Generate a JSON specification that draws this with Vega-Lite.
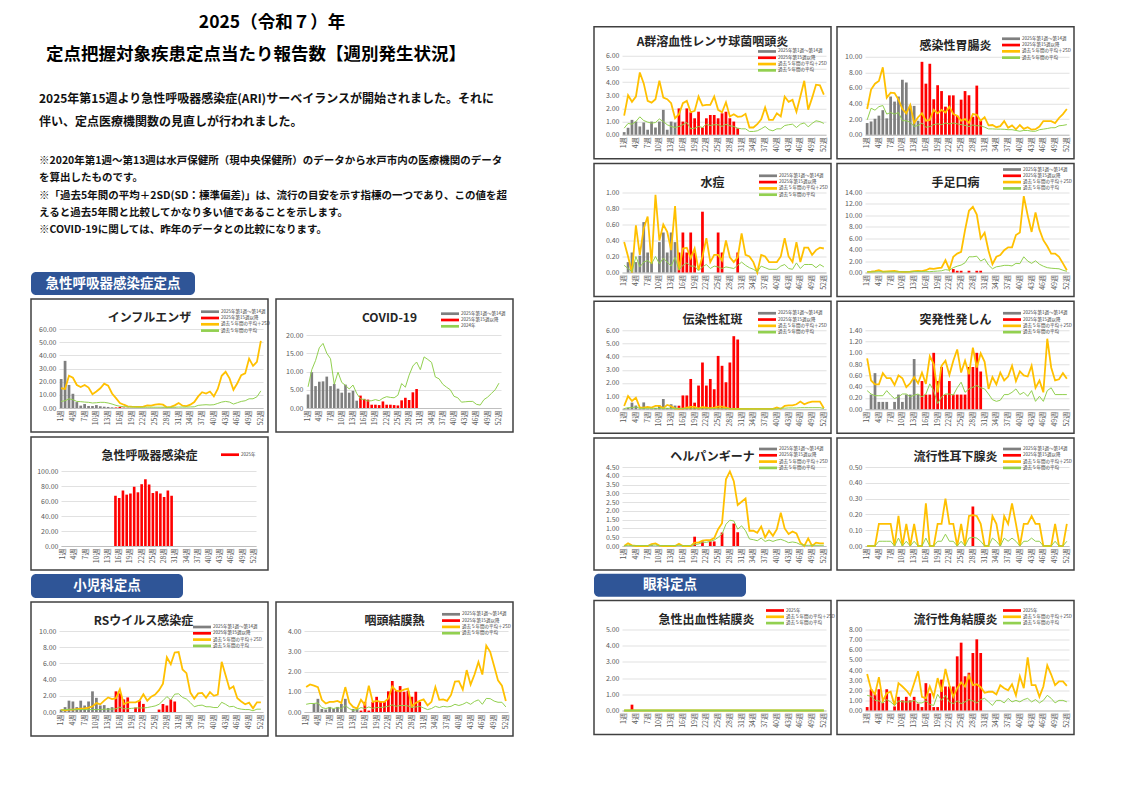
{
"background":"white",
"padding":{"left":30,"top":10,"right":5,"bottom":5},
"config":{
 "font":"Noto Sans CJK JP",
 "view":{"stroke":"#404040","strokeWidth":1.5},
 "title":{"fontSize":12,"fontWeight":"bold","color":"#262626","anchor":"middle","frame":"group","offset":-26},
 "axis":{"labelFontSize":7,"labelColor":"#595959","ticks":false},
 "axisX":{"labelAngle":-90,"grid":false,"domainColor":"#bfbfbf","labelPadding":2,"labelOverlap":false},
 "axisY":{"grid":true,"gridColor":"#d9d9d9","gridWidth":0.8,"domain":false,"labelPadding":3},
 "legend":{"orient":"none","labelFontSize":4.5,"labelColor":"#404040","symbolSize":36,"symbolType":"M-3,-0.45H3V0.45H-3Z","symbolStrokeWidth":0,"labelOffset":8,"rowPadding":1.3,"padding":0,"labelLimit":200}
},
"hconcat":[
{"vconcat":[
 {"width":482,"height":26,"view":{"stroke":null},"data":{"values":[{"t":"2025（令和７）年"}]},"mark":{"type":"text","fontSize":17.5,"fontWeight":"bold","color":"#000000"},"encoding":{"text":{"field":"t"}}},
 {"width":450,"height":32,"view":{"stroke":null},"data":{"values":[{"t":"定点把握対象疾患定点当たり報告数【週別発生状況】"}]},"mark":{"type":"text","fontSize":17.5,"fontWeight":"bold","color":"#000000"},"encoding":{"text":{"field":"t"}}},
 {"width":10,"height":8,"view":{"stroke":null},"data":{"values":[{"t":""}]},"mark":"text","encoding":{"text":{"field":"t"}}},
 {"width":482,"height":61,"view":{"stroke":null},"data":{"values":[{"t":"2025年第15週より急性呼吸器感染症(ARI)サーベイランスが開始されました。それに\n伴い、定点医療機関数の見直しが行われました。"}]},"mark":{"type":"text","align":"left","baseline":"line-top","lineHeight":23,"lineBreak":"\n","fontSize":12,"fontWeight":"bold","dx":8,"color":"#111111"},"encoding":{"text":{"field":"t"},"x":{"datum":0,"type":"quantitative","scale":{"domain":[0,1]},"axis":null},"y":{"datum":1,"type":"quantitative","scale":{"domain":[0,1]},"axis":null}}},
 {"width":482,"height":117,"view":{"stroke":null},"data":{"values":[{"t":"※2020年第1週～第13週は水戸保健所（現中央保健所）のデータから水戸市内の医療機関のデータ\nを算出したものです。\n※「過去5年間の平均＋2SD(SD：標準偏差)」は、流行の目安を示す指標の一つであり、この値を超\nえると過去5年間と比較してかなり多い値であることを示します。\n※COVID-19に関しては、昨年のデータとの比較になります。"}]},"mark":{"type":"text","align":"left","baseline":"line-top","lineHeight":17.3,"lineBreak":"\n","fontSize":10.5,"fontWeight":"bold","dx":8,"color":"#111111"},"encoding":{"text":{"field":"t"},"x":{"datum":0,"type":"quantitative","scale":{"domain":[0,1]},"axis":null},"y":{"datum":1,"type":"quantitative","scale":{"domain":[0,1]},"axis":null}}},
 {"width":164,"height":23,"view":{"fill":"#2f5597","stroke":null,"cornerRadius":5},"data":{"values":[{"t":"急性呼吸器感染症定点"}]},"mark":{"type":"text","color":"#ffffff","fontSize":13.5,"fontWeight":"bold"},"encoding":{"text":{"field":"t"}}},
 {"hconcat":[
  {"width":237,"height":133,"title":{"text":"インフルエンザ"},
   "data":{"values":[{"w":[1,2,3,4,5,6,7,8,9,10,11,12,13,14,15,16,17,18,19,20,21,22,23,24,25,26,27,28,29,30,31,32,33,34,35,36,37,38,39,40,41,42,43,44,45,46,47,48,49,50,51,52],
    "b":[22,35.8,17.5,10.8,4.5,1.8,3,1.5,1.5,2.2,1.3,1,0.8,0.5,0.4,0.8,0.3,0.2,0.1,0.1,0.1,0.1,0.1,0.1,0.1,0.1,0.1,0.1,0.2,0.2],
    "u":[15,14.5,24.5,23,17.5,16,17.5,15.5,10.5,12.5,15,18.5,17,11,7.5,3.8,2.5,1.3,1,0.8,0.8,1,2,1.8,2.5,3,2.5,0.5,0.8,2,3.8,1.8,1.5,2.5,4.5,8.8,12,11,12.5,8.8,14.5,24.5,27.5,22.5,13.8,18.8,25,26.3,37.5,32,35,51],
    "m":[5,5.5,7,6.3,5,4.8,4.5,4.3,3.8,4,4.3,4.3,3.8,3,2,1.3,1,0.8,0.7,0.7,0.6,0.6,0.6,0.6,0.6,0.6,0.6,0.5,0.5,0.6,0.7,0.7,0.7,0.8,0.9,2,2.3,2.5,2.3,2.5,3.5,4.5,5,4.5,3,4,5,5.5,7,7,8.5,13]}]},
   "transform":[{"flatten":["w","b","u","m"]}],
   "encoding":{"x":{"field":"w","type":"ordinal","title":null,"scale":{"range":[28,232],"paddingInner":0.3,"paddingOuter":0.2},"axis":{"values":[1,4,7,10,13,16,19,22,25,28,31,34,37,40,43,46,49,52],"labelExpr":"datum.value+'週'","offset":-24}}},
   "layer":[
    {"transform":[{"filter":"datum.w<15"}],"mark":"bar","encoding":{"y":{"field":"b","type":"quantitative","title":null,"scale":{"domain":[0,60],"range":[109,30]},"axis":{"tickCount":6,"format":".2f","offset":-28}},"color":{"datum":"2025年第1週～第14週","scale":{"domain":["2025年第1週～第14週","2025年第15週以降","過去５年間の平均＋2SD","過去５年間の平均"],"range":["#7f7f7f","#ff0000","#ffc000","#92d050"]},"legend":{"title":null,"legendX":176,"legendY":9.7}}}},
    {"transform":[{"filter":"datum.w>=15"}],"mark":"bar","encoding":{"y":{"field":"b","type":"quantitative","title":null},"color":{"datum":"2025年第15週以降"}}},
    {"mark":{"type":"line","strokeWidth":1.8},"encoding":{"y":{"field":"u","type":"quantitative","title":null},"color":{"datum":"過去５年間の平均＋2SD"}}},
    {"mark":{"type":"line","strokeWidth":1},"encoding":{"y":{"field":"m","type":"quantitative","title":null},"color":{"datum":"過去５年間の平均"}}}
   ]},
  {"width":237,"height":133,"title":{"text":"COVID-19","dx":-5},
   "data":{"values":[{"w":[1,2,3,4,5,6,7,8,9,10,11,12,13,14,15,16,17,18,19,20,21,22,23,24,25,26,27,28,29,30,31,32,33,34,35,36,37,38,39,40,41,42,43,44,45,46,47,48,49,50,51,52],
    "b":[3.7,9.8,6,7.2,7.3,8.6,6,6.6,5.3,4.2,6.4,4.2,4.7,2,3.4,2.5,2.3,0.9,0.9,0.8,1.8,0.9,0.9,0.8,0.7,2.1,2.8,2.2,4.3,5.2],
    "m":[5.8,10.5,13,16.5,17.7,15,13.5,6.5,9.8,7,6.2,5.2,6.3,4,2.5,2.3,1.9,2,2.3,2,2.7,3.1,2.9,2.8,3.5,6.7,5.7,9,11.5,12.6,10.5,14,13.3,12.5,8.5,8,6.5,5.7,5,3.2,2.8,1.6,1.7,1.8,1.8,1,0.8,2.3,3,4,5,6.8]}]},
   "transform":[{"flatten":["w","b","m"]}],
   "encoding":{"x":{"field":"w","type":"ordinal","title":null,"scale":{"range":[30,225],"paddingInner":0.3,"paddingOuter":0.2},"axis":{"values":[1,4,7,10,13,16,19,22,25,28,31,34,37,40,43,46,49,52],"labelExpr":"datum.value+'週'","offset":-24}}},
   "layer":[
    {"transform":[{"filter":"datum.w<15"}],"mark":"bar","encoding":{"y":{"field":"b","type":"quantitative","title":null,"scale":{"domain":[0,20],"range":[109,36]},"axis":{"tickCount":4,"format":".2f","offset":-30}},"color":{"datum":"2025年第1週～第14週","scale":{"domain":["2025年第1週～第14週","2025年第15週以降","2024年"],"range":["#7f7f7f","#ff0000","#92d050"]},"legend":{"title":null,"legendX":171,"legendY":11.7}}}},
    {"transform":[{"filter":"datum.w>=15"}],"mark":"bar","encoding":{"y":{"field":"b","type":"quantitative","title":null},"color":{"datum":"2025年第15週以降"}}},
    {"mark":{"type":"line","strokeWidth":1},"encoding":{"y":{"field":"m","type":"quantitative","title":null},"color":{"datum":"2024年"}}}
   ]}
 ],"spacing":8,"bounds":"flush","resolve":{"scale":{"color":"independent"}}},
 {"width":237,"height":133,"title":{"text":"急性呼吸器感染症"},
  "data":{"values":[{"w":[1,2,3,4,5,6,7,8,9,10,11,12,13,14,15,16,17,18,19,20,21,22,23,24,25,26,27,28,29,30,31,32,33,34,35,36,37,38,39,40,41,42,43,44,45,46,47,48,49,50,51,52],
   "b":[null,null,null,null,null,null,null,null,null,null,null,null,null,null,67,64,74,68.5,70,79,71.6,82.4,89,82,70.7,73,70,65.3,74,67]}]},
  "transform":[{"flatten":["w","b"]}],
  "encoding":{"x":{"field":"w","type":"ordinal","title":null,"scale":{"domain":[1,2,3,4,5,6,7,8,9,10,11,12,13,14,15,16,17,18,19,20,21,22,23,24,25,26,27,28,29,30,31,32,33,34,35,36,37,38,39,40,41,42,43,44,45,46,47,48,49,50,51,52],"range":[30,225],"paddingInner":0.3,"paddingOuter":0.2},"axis":{"values":[1,4,7,10,13,16,19,22,25,28,31,34,37,40,43,46,49,52],"labelExpr":"datum.value+'週'","offset":-24}}},
  "layer":[
   {"mark":"bar","encoding":{"y":{"field":"b","type":"quantitative","title":null,"scale":{"domain":[0,100],"range":[109,34]},"axis":{"tickCount":5,"format":".2f","offset":-30}},"color":{"datum":"2025年","scale":{"domain":["2025年"],"range":["#ff0000"]},"legend":{"title":null,"legendX":196,"legendY":14.7}}}}
  ]},
 {"width":152,"height":24,"view":{"fill":"#2f5597","stroke":null,"cornerRadius":5},"data":{"values":[{"t":"小児科定点"}]},"mark":{"type":"text","color":"#ffffff","fontSize":13.5,"fontWeight":"bold"},"encoding":{"text":{"field":"t"}}},
 {"hconcat":[
  {"width":237,"height":134,"title":{"text":"RSウイルス感染症","dx":-6},
   "data":{"values":[{"w":[1,2,3,4,5,6,7,8,9,10,11,12,13,14,15,16,17,18,19,20,21,22,23,24,25,26,27,28,29,30,31,32,33,34,35,36,37,38,39,40,41,42,43,44,45,46,47,48,49,50,51,52],
    "b":[0.3,0.6,1.4,1.3,0.6,1.4,0.8,1.3,2.55,1.75,0.8,0.85,0.5,0.6,2.55,2.3,1.55,1.8,0,0.55,1.4,1,0,0,0,0.3,1,0.8,1.55,1.3],
    "u":[0.25,0.2,0.3,0.3,0.35,0.4,0.45,0.55,0.7,1.1,0.95,1.4,1.8,1.6,1.7,2.8,0.95,1.2,1.2,1.2,1.4,2.2,1.4,1.9,2.15,2.7,3.5,6.75,5.9,7.35,7.4,5.25,4.8,2.4,1.65,2.3,2.35,1.75,2.45,2,2.15,6.2,4.55,2.85,3.15,1.7,1.3,0.95,1.15,0.45,1.2,1.2],
    "m":[0.2,0.3,0.3,0.3,0.3,0.3,0.3,0.3,0.3,0.3,0.3,0.35,0.35,0.35,0.4,0.6,0.4,0.4,0.45,0.5,0.5,0.5,0.55,0.65,0.75,0.95,1.4,1.9,1.5,2.2,2.25,1.8,1.6,1.15,0.65,0.8,0.85,0.65,0.65,0.55,0.55,1.2,0.95,0.65,0.7,0.45,0.35,0.3,0.3,0.15,0.35,0.35]}]},
   "transform":[{"flatten":["w","b","u","m"]}],
   "encoding":{"x":{"field":"w","type":"ordinal","title":null,"scale":{"range":[28,232],"paddingInner":0.3,"paddingOuter":0.2},"axis":{"values":[1,4,7,10,13,16,19,22,25,28,31,34,37,40,43,46,49,52],"labelExpr":"datum.value+'週'","offset":-24}}},
   "layer":[
    {"transform":[{"filter":"datum.w<15"}],"mark":"bar","encoding":{"y":{"field":"b","type":"quantitative","title":null,"scale":{"domain":[0,10],"range":[110,29]},"axis":{"tickCount":5,"format":".2f","offset":-28}},"color":{"datum":"2025年第1週～第14週","scale":{"domain":["2025年第1週～第14週","2025年第15週以降","過去５年間の平均＋2SD","過去５年間の平均"],"range":["#7f7f7f","#ff0000","#ffc000","#92d050"]},"legend":{"title":null,"legendX":168,"legendY":22}}}},
    {"transform":[{"filter":"datum.w>=15"}],"mark":"bar","encoding":{"y":{"field":"b","type":"quantitative","title":null},"color":{"datum":"2025年第15週以降"}}},
    {"mark":{"type":"line","strokeWidth":1.8},"encoding":{"y":{"field":"u","type":"quantitative","title":null},"color":{"datum":"過去５年間の平均＋2SD"}}},
    {"mark":{"type":"line","strokeWidth":1},"encoding":{"y":{"field":"m","type":"quantitative","title":null},"color":{"datum":"過去５年間の平均"}}}
   ]},
  {"width":237,"height":134,"title":{"text":"咽頭結膜熱"},
   "data":{"values":[{"w":[1,2,3,4,5,6,7,8,9,10,11,12,13,14,15,16,17,18,19,20,21,22,23,24,25,26,27,28,29,30,31,32,33,34,35,36,37,38,39,40,41,42,43,44,45,46,47,48,49,50,51,52],
    "b":[0,0,0.4,0.65,0.15,0.12,0.25,0.15,0.25,0.4,0.65,0,0.15,0.15,0.07,0.5,0.07,0.5,0.75,0.5,0.5,1.02,1.53,1.05,1.28,1,1.05,0.75,1,0.5],
    "u":[1.23,1.36,1.3,1.23,0.6,0.42,0.5,0.5,0.55,0.45,1.23,0.47,0.25,0.17,0.6,0.35,1.3,0.5,0.55,0.5,0.5,0.67,1.26,1.05,1.02,1.1,1.15,0.28,0.45,0.55,0.62,0.33,0.5,1.23,0.6,0.62,0.55,0.84,1.5,1.52,1.1,2.07,1.35,1.85,2.47,1.85,3.28,2.97,2.27,1.56,1.3,0.54],
    "m":[0.38,0.42,0.42,0.45,0.22,0.17,0.22,0.17,0.22,0.17,0.32,0.17,0.08,0.12,0.22,0.17,0.25,0.18,0.22,0.22,0.25,0.28,0.35,0.28,0.32,0.32,0.3,0.22,0.25,0.28,0.2,0.12,0.17,0.28,0.22,0.28,0.25,0.28,0.38,0.32,0.38,0.48,0.38,0.52,0.6,0.38,0.67,0.66,0.54,0.48,0.48,0.25]}]},
   "transform":[{"flatten":["w","b","u","m"]}],
   "encoding":{"x":{"field":"w","type":"ordinal","title":null,"scale":{"range":[28,232],"paddingInner":0.3,"paddingOuter":0.2},"axis":{"values":[1,4,7,10,13,16,19,22,25,28,31,34,37,40,43,46,49,52],"labelExpr":"datum.value+'週'","offset":-24}}},
   "layer":[
    {"transform":[{"filter":"datum.w<15"}],"mark":"bar","encoding":{"y":{"field":"b","type":"quantitative","title":null,"scale":{"domain":[0,4],"range":[110,29]},"axis":{"tickCount":4,"format":".2f","offset":-28}},"color":{"datum":"2025年第1週～第14週","scale":{"domain":["2025年第1週～第14週","2025年第15週以降","過去５年間の平均＋2SD","過去５年間の平均"],"range":["#7f7f7f","#ff0000","#ffc000","#92d050"]},"legend":{"title":null,"legendX":172,"legendY":9.3}}}},
    {"transform":[{"filter":"datum.w>=15"}],"mark":"bar","encoding":{"y":{"field":"b","type":"quantitative","title":null},"color":{"datum":"2025年第15週以降"}}},
    {"mark":{"type":"line","strokeWidth":1.8},"encoding":{"y":{"field":"u","type":"quantitative","title":null},"color":{"datum":"過去５年間の平均＋2SD"}}},
    {"mark":{"type":"line","strokeWidth":1},"encoding":{"y":{"field":"m","type":"quantitative","title":null},"color":{"datum":"過去５年間の平均"}}}
   ]}
 ],"spacing":8,"bounds":"flush","resolve":{"scale":{"color":"independent"}}}
],"spacing":3,"resolve":{"scale":{"color":"independent"}}},
{"vconcat":[
 {"width":10,"height":13,"view":{"stroke":null},"data":{"values":[{"t":""}]},"mark":"text","encoding":{"text":{"field":"t"}}},
 {"hconcat":[
  {"width":237,"height":132,"title":{"text":"A群溶血性レンサ球菌咽頭炎","offset":-22},
   "data":{"values":[{"w":[1,2,3,4,5,6,7,8,9,10,11,12,13,14,15,16,17,18,19,20,21,22,23,24,25,26,27,28,29,30,31,32,33,34,35,36,37,38,39,40,41,42,43,44,45,46,47,48,49,50,51,52],
    "b":[0.2,0.53,1.13,1,0.63,0.93,0.38,1,0.55,1,1.89,0.38,1,0.93,2,1,2,1.7,1.25,1.75,0.55,1.25,1.5,1.5,1.25,1.63,1.75,1.25,1,0.5],
    "u":[1.45,3,2.5,2.9,4.73,3.9,2.57,2.44,2.7,4.1,2.82,2.7,2.4,1.25,1.56,2.4,2.57,1.71,1.81,2.9,2.22,2.27,2.27,2.9,1.89,1.71,2.47,1.39,1.56,1.36,1.39,1.59,0.55,0.55,0.8,1.18,2.07,1.13,1.13,1.63,1.39,2.9,2.5,2.65,1.75,2.9,4.1,1.9,2.8,3.8,3.75,3.05],
    "m":[0.5,0.86,0.8,1,1.36,1.08,0.96,0.88,0.93,1.2,1,0.76,0.63,0.55,0.63,0.76,0.93,0.45,0.5,0.63,0.55,0.8,0.7,0.76,0.76,0.63,0.8,0.68,0.63,0.5,0.45,0.45,0.25,0.25,0.3,0.45,0.63,0.38,0.3,0.45,0.45,0.7,0.76,0.8,0.55,0.8,0.9,0.6,0.86,1.06,1,0.86]}]},
   "transform":[{"flatten":["w","b","u","m"]}],
   "encoding":{"x":{"field":"w","type":"ordinal","title":null,"scale":{"range":[28,232],"paddingInner":0.3,"paddingOuter":0.2},"axis":{"values":[1,4,7,10,13,16,19,22,25,28,31,34,37,40,43,46,49,52],"labelExpr":"datum.value+'週'","offset":-24}}},
   "layer":[
    {"transform":[{"filter":"datum.w<15"}],"mark":"bar","encoding":{"y":{"field":"b","type":"quantitative","title":null,"scale":{"domain":[0,6],"range":[108,29]},"axis":{"tickCount":6,"format":".2f","offset":-28}},"color":{"datum":"2025年第1週～第14週","scale":{"domain":["2025年第1週～第14週","2025年第15週以降","過去５年間の平均＋2SD","過去５年間の平均"],"range":["#7f7f7f","#ff0000","#ffc000","#92d050"]},"legend":{"title":null,"legendX":170,"legendY":21.7}}}},
    {"transform":[{"filter":"datum.w>=15"}],"mark":"bar","encoding":{"y":{"field":"b","type":"quantitative","title":null},"color":{"datum":"2025年第15週以降"}}},
    {"mark":{"type":"line","strokeWidth":1.8},"encoding":{"y":{"field":"u","type":"quantitative","title":null},"color":{"datum":"過去５年間の平均＋2SD"}}},
    {"mark":{"type":"line","strokeWidth":1},"encoding":{"y":{"field":"m","type":"quantitative","title":null},"color":{"datum":"過去５年間の平均"}}}
   ]},
  {"width":237,"height":132,"title":{"text":"感染性胃腸炎"},
   "data":{"values":[{"w":[1,2,3,4,5,6,7,8,9,10,11,12,13,14,15,16,17,18,19,20,21,22,23,24,25,26,27,28,29,30,31,32,33,34,35,36,37,38,39,40,41,42,43,44,45,46,47,48,49,50,51,52],
    "b":[1.5,1.7,2.05,2.45,3.15,2.1,4.9,4.25,4.9,7.05,6.7,3.75,3.7,1.8,9.35,6.55,9.1,4.55,6.35,5.6,3.6,5.05,5.05,2.45,4.5,5.6,5.05,2.3,6.3,1.8],
    "u":[3.3,5.8,6.55,6.9,8.65,4.75,5.4,5.35,4.5,3.3,2.75,3.8,1.5,2.25,2.75,1.8,1.9,3.2,2.75,3.2,2.85,3.6,2.65,2.45,1.8,2,1.5,2.65,2.55,1.8,2.25,1.2,1.25,0.97,1.1,1.75,0.9,1.2,0.7,1.25,0.75,0.97,0.65,0.72,1.05,1.75,1.75,1.75,1.5,2.15,2.65,3.3],
    "m":[1.9,3.4,3.15,3.6,3.75,2.65,2.85,2.65,2.85,1.8,1.8,1.6,1.05,1.2,1.5,0.95,1.05,1.3,1.4,1.3,1.5,1.4,1.5,1.4,1.3,1.2,1.05,1.25,1.15,1.15,0.97,0.75,0.75,0.72,0.72,0.7,0.65,0.65,0.55,0.45,0.55,0.55,0.45,0.45,0.65,0.72,0.8,0.9,0.9,1.15,1.2,1.3]}]},
   "transform":[{"flatten":["w","b","u","m"]}],
   "encoding":{"x":{"field":"w","type":"ordinal","title":null,"scale":{"range":[28,232],"paddingInner":0.3,"paddingOuter":0.2},"axis":{"values":[1,4,7,10,13,16,19,22,25,28,31,34,37,40,43,46,49,52],"labelExpr":"datum.value+'週'","offset":-24}}},
   "layer":[
    {"transform":[{"filter":"datum.w<15"}],"mark":"bar","encoding":{"y":{"field":"b","type":"quantitative","title":null,"scale":{"domain":[0,10],"range":[108,30]},"axis":{"tickCount":5,"format":".2f","offset":-28}},"color":{"datum":"2025年第1週～第14週","scale":{"domain":["2025年第1週～第14週","2025年第15週以降","過去５年間の平均＋2SD","過去５年間の平均"],"range":["#7f7f7f","#ff0000","#ffc000","#92d050"]},"legend":{"title":null,"legendX":171,"legendY":9}}}},
    {"transform":[{"filter":"datum.w>=15"}],"mark":"bar","encoding":{"y":{"field":"b","type":"quantitative","title":null},"color":{"datum":"2025年第15週以降"}}},
    {"mark":{"type":"line","strokeWidth":1.8},"encoding":{"y":{"field":"u","type":"quantitative","title":null},"color":{"datum":"過去５年間の平均＋2SD"}}},
    {"mark":{"type":"line","strokeWidth":1},"encoding":{"y":{"field":"m","type":"quantitative","title":null},"color":{"datum":"過去５年間の平均"}}}
   ]}
 ],"spacing":6,"bounds":"flush","resolve":{"scale":{"color":"independent"}}},
 {"hconcat":[
  {"width":237,"height":133,"title":{"text":"水痘"},
   "data":{"values":[{"w":[1,2,3,4,5,6,7,8,9,10,11,12,13,14,15,16,17,18,19,20,21,22,23,24,25,26,27,28,29,30,31,32,33,34,35,36,37,38,39,40,41,42,43,44,45,46,47,48,49,50,51,52],
    "b":[0,0.13,0.25,0.13,0.21,0.63,0.25,0.13,0,0.38,0.5,0.25,0.5,0.38,0.25,0.5,0.25,0.5,0.25,0,0.76,0,0,0,0.5,0.25,0,0,0,0.25],
    "u":[0.38,0.2,0,0.59,0.22,0.55,0.7,0.11,0.97,0.4,0.6,0.51,0.28,0.83,0.03,0.3,0.31,0.18,0.3,0.03,0.2,0.43,0.13,0.22,0.22,0.15,0.4,0.19,0.13,0.19,0.49,0.22,0.2,0.13,0,0.22,0.2,0.13,0.13,0.13,0.2,0.43,0.2,0.13,0.38,0.13,0.31,0.31,0.22,0.28,0.31,0.3],
    "m":[0.09,0.05,0.01,0.2,0.07,0.13,0.15,0.11,0.2,0.11,0.18,0.13,0.08,0.19,0.03,0.09,0.12,0.08,0.08,0.02,0.07,0.1,0.05,0.08,0.07,0.05,0.07,0.06,0.05,0.09,0.13,0.09,0.06,0.04,0.01,0.08,0.06,0.04,0.04,0.04,0.08,0.1,0.05,0.04,0.12,0.05,0.1,0.1,0.1,0.06,0.1,0.07]}]},
   "transform":[{"flatten":["w","b","u","m"]}],
   "encoding":{"x":{"field":"w","type":"ordinal","title":null,"scale":{"range":[28,232],"paddingInner":0.3,"paddingOuter":0.2},"axis":{"values":[1,4,7,10,13,16,19,22,25,28,31,34,37,40,43,46,49,52],"labelExpr":"datum.value+'週'","offset":-24}}},
   "layer":[
    {"transform":[{"filter":"datum.w<15"}],"mark":"bar","encoding":{"y":{"field":"b","type":"quantitative","title":null,"scale":{"domain":[0,1],"range":[109,29]},"axis":{"tickCount":5,"format":".2f","offset":-28}},"color":{"datum":"2025年第1週～第14週","scale":{"domain":["2025年第1週～第14週","2025年第15週以降","過去５年間の平均＋2SD","過去５年間の平均"],"range":["#7f7f7f","#ff0000","#ffc000","#92d050"]},"legend":{"title":null,"legendX":171,"legendY":9.3}}}},
    {"transform":[{"filter":"datum.w>=15"}],"mark":"bar","encoding":{"y":{"field":"b","type":"quantitative","title":null},"color":{"datum":"2025年第15週以降"}}},
    {"mark":{"type":"line","strokeWidth":1.8},"encoding":{"y":{"field":"u","type":"quantitative","title":null},"color":{"datum":"過去５年間の平均＋2SD"}}},
    {"mark":{"type":"line","strokeWidth":1},"encoding":{"y":{"field":"m","type":"quantitative","title":null},"color":{"datum":"過去５年間の平均"}}}
   ]},
  {"width":237,"height":133,"title":{"text":"手足口病"},
   "data":{"values":[{"w":[1,2,3,4,5,6,7,8,9,10,11,12,13,14,15,16,17,18,19,20,21,22,23,24,25,26,27,28,29,30,31,32,33,34,35,36,37,38,39,40,41,42,43,44,45,46,47,48,49,50,51,52],
    "b":[0,0,0,0,0,0,0,0,0,0,0,0,0,0,0,0,0,0,0,0,0,0,0.6,0.3,0.3,0,0.3,0,0.3,0.3],
    "u":[0.1,0.15,0.25,0.4,0.15,0.2,0.25,0.3,0.15,0.1,0.1,0.15,0.25,0.3,0.25,0.4,0.7,0.65,0.75,0.85,2.15,0.5,2.75,3.3,3.6,7.4,10.8,11.5,10.15,5.95,6.95,3.8,1.45,2.75,3.05,3.9,4.4,4.4,6.55,7,13.35,10,7.1,10.5,7.5,5.65,4.6,3.3,3.3,2.75,1.6,0.4],
    "m":[0.1,0.1,0.1,0.15,0.1,0.1,0.1,0.1,0.1,0.1,0.1,0.1,0.15,0.15,0.15,0.15,0.15,0.2,0.25,0.3,0.5,0.4,0.85,1.1,1.3,1.7,2.75,2.75,2.85,2,2.4,1.3,0.65,1,1.1,1.25,1.25,1.15,1.6,1.55,2.75,2,1.6,2.05,1.45,1.1,0.85,0.75,0.7,0.65,0.4,0.2]}]},
   "transform":[{"flatten":["w","b","u","m"]}],
   "encoding":{"x":{"field":"w","type":"ordinal","title":null,"scale":{"range":[28,232],"paddingInner":0.3,"paddingOuter":0.2},"axis":{"values":[1,4,7,10,13,16,19,22,25,28,31,34,37,40,43,46,49,52],"labelExpr":"datum.value+'週'","offset":-24}}},
   "layer":[
    {"transform":[{"filter":"datum.w<15"}],"mark":"bar","encoding":{"y":{"field":"b","type":"quantitative","title":null,"scale":{"domain":[0,14],"range":[109,29]},"axis":{"tickCount":7,"format":".2f","offset":-28}},"color":{"datum":"2025年第1週～第14週","scale":{"domain":["2025年第1週～第14週","2025年第15週以降","過去５年間の平均＋2SD","過去５年間の平均"],"range":["#7f7f7f","#ff0000","#ffc000","#92d050"]},"legend":{"title":null,"legendX":172,"legendY":3}}}},
    {"transform":[{"filter":"datum.w>=15"}],"mark":"bar","encoding":{"y":{"field":"b","type":"quantitative","title":null},"color":{"datum":"2025年第15週以降"}}},
    {"mark":{"type":"line","strokeWidth":1.8},"encoding":{"y":{"field":"u","type":"quantitative","title":null},"color":{"datum":"過去５年間の平均＋2SD"}}},
    {"mark":{"type":"line","strokeWidth":1},"encoding":{"y":{"field":"m","type":"quantitative","title":null},"color":{"datum":"過去５年間の平均"}}}
   ]}
 ],"spacing":6,"bounds":"flush","resolve":{"scale":{"color":"independent"}}},
 {"hconcat":[
  {"width":237,"height":132,"title":{"text":"伝染性紅斑"},
   "data":{"values":[{"w":[1,2,3,4,5,6,7,8,9,10,11,12,13,14,15,16,17,18,19,20,21,22,23,24,25,26,27,28,29,30,31,32,33,34,35,36,37,38,39,40,41,42,43,44,45,46,47,48,49,50,51,52],
    "b":[0.05,0.1,0.5,0.28,0.05,0.52,0.05,0.05,0.1,0.3,0.78,0.1,0.38,0.28,0.27,1.05,1.05,2.3,0.5,1.8,3.55,1.8,2.3,1.52,4.05,3.3,2.05,3.55,5.55,5.3],
    "u":[0.25,1,0.63,0.88,0.13,0.13,0.18,0.13,0.25,0.25,0.08,0.33,0.23,0.05,0.05,0.05,0.13,0.18,0.18,0.05,0.18,0.13,0.08,0.13,0.2,0.2,0.13,0.05,0.03,0.03,0.03,0.03,0.03,0.03,0.03,0.03,0.03,0.03,0.03,0.13,0.03,0.25,0.3,0.3,0.38,0.58,0.38,0.5,0.58,0.58,0.58,0.08],
    "m":[0.05,0.12,0.12,0.18,0.07,0.07,0.07,0.07,0.07,0.07,0.07,0.07,0.07,0.05,0.05,0.05,0.05,0.05,0.05,0.05,0.05,0.05,0.05,0.05,0.05,0.05,0.05,0.05,0.02,0.02,0.02,0.02,0.02,0.02,0.02,0.02,0.02,0.02,0.02,0.02,0.08,0.08,0.1,0.1,0.1,0.12,0.12,0.12,0.12,0.12,0.12,0.05]}]},
   "transform":[{"flatten":["w","b","u","m"]}],
   "encoding":{"x":{"field":"w","type":"ordinal","title":null,"scale":{"range":[28,232],"paddingInner":0.3,"paddingOuter":0.2},"axis":{"values":[1,4,7,10,13,16,19,22,25,28,31,34,37,40,43,46,49,52],"labelExpr":"datum.value+'週'","offset":-24}}},
   "layer":[
    {"transform":[{"filter":"datum.w<15"}],"mark":"bar","encoding":{"y":{"field":"b","type":"quantitative","title":null,"scale":{"domain":[0,6],"range":[108,29]},"axis":{"tickCount":6,"format":".2f","offset":-28}},"color":{"datum":"2025年第1週～第14週","scale":{"domain":["2025年第1週～第14週","2025年第15週以降","過去５年間の平均＋2SD","過去５年間の平均"],"range":["#7f7f7f","#ff0000","#ffc000","#92d050"]},"legend":{"title":null,"legendX":170,"legendY":9}}}},
    {"transform":[{"filter":"datum.w>=15"}],"mark":"bar","encoding":{"y":{"field":"b","type":"quantitative","title":null},"color":{"datum":"2025年第15週以降"}}},
    {"mark":{"type":"line","strokeWidth":1.8},"encoding":{"y":{"field":"u","type":"quantitative","title":null},"color":{"datum":"過去５年間の平均＋2SD"}}},
    {"mark":{"type":"line","strokeWidth":1},"encoding":{"y":{"field":"m","type":"quantitative","title":null},"color":{"datum":"過去５年間の平均"}}}
   ]},
  {"width":237,"height":132,"title":{"text":"突発性発しん"},
   "data":{"values":[{"w":[1,2,3,4,5,6,7,8,9,10,11,12,13,14,15,16,17,18,19,20,21,22,23,24,25,26,27,28,29,30,31,32,33,34,35,36,37,38,39,40,41,42,43,44,45,46,47,48,49,50,51,52],
    "b":[0,0.26,0.64,0.13,0.13,0.13,0,0.13,0.26,0.13,0.26,0.26,0.89,0.26,0.5,0.26,0.26,1,0.5,0.75,0.26,0.5,0.26,0.26,0.26,0.26,0.75,0.75,1,0.67],
    "u":[0.9,0.51,0.44,0.44,0.64,0.55,0.55,0.43,0.6,0.55,0.39,0.46,0.57,0.46,0.65,0.45,0.94,0.8,0.3,0.77,0.86,0.61,0.86,1.06,0.65,0.86,0.62,1.09,0.74,0.99,0.84,0.36,0.57,0.44,0.65,0.51,0.58,0.77,0.5,0.67,0.6,0.58,0.77,0.38,0.51,0.3,1.25,0.74,0.51,0.53,0.64,0.54],
    "m":[0.33,0.27,0.24,0.24,0.24,0.33,0.25,0.19,0.22,0.27,0.27,0.22,0.25,0.27,0.22,0.27,0.45,0.33,0.1,0.22,0.27,0.27,0.25,0.38,0.48,0.3,0.36,0.39,0.42,0.38,0.36,0.27,0.17,0.14,0.16,0.26,0.26,0.3,0.36,0.26,0.3,0.23,0.33,0.14,0.23,0.14,0.33,0.38,0.26,0.26,0.26,0.26]}]},
   "transform":[{"flatten":["w","b","u","m"]}],
   "encoding":{"x":{"field":"w","type":"ordinal","title":null,"scale":{"range":[28,232],"paddingInner":0.3,"paddingOuter":0.2},"axis":{"values":[1,4,7,10,13,16,19,22,25,28,31,34,37,40,43,46,49,52],"labelExpr":"datum.value+'週'","offset":-24}}},
   "layer":[
    {"transform":[{"filter":"datum.w<15"}],"mark":"bar","encoding":{"y":{"field":"b","type":"quantitative","title":null,"scale":{"domain":[0,1.4],"range":[108,29]},"axis":{"tickCount":7,"format":".2f","offset":-28}},"color":{"datum":"2025年第1週～第14週","scale":{"domain":["2025年第1週～第14週","2025年第15週以降","過去５年間の平均＋2SD","過去５年間の平均"],"range":["#7f7f7f","#ff0000","#ffc000","#92d050"]},"legend":{"title":null,"legendX":172,"legendY":9}}}},
    {"transform":[{"filter":"datum.w>=15"}],"mark":"bar","encoding":{"y":{"field":"b","type":"quantitative","title":null},"color":{"datum":"2025年第15週以降"}}},
    {"mark":{"type":"line","strokeWidth":1.8},"encoding":{"y":{"field":"u","type":"quantitative","title":null},"color":{"datum":"過去５年間の平均＋2SD"}}},
    {"mark":{"type":"line","strokeWidth":1},"encoding":{"y":{"field":"m","type":"quantitative","title":null},"color":{"datum":"過去５年間の平均"}}}
   ]}
 ],"spacing":6,"bounds":"flush","resolve":{"scale":{"color":"independent"}}},
 {"hconcat":[
  {"width":237,"height":132,"title":{"text":"ヘルパンギーナ"},
   "data":{"values":[{"w":[1,2,3,4,5,6,7,8,9,10,11,12,13,14,15,16,17,18,19,20,21,22,23,24,25,26,27,28,29,30,31,32,33,34,35,36,37,38,39,40,41,42,43,44,45,46,47,48,49,50,51,52],
    "b":[0,0,0,0,0,0,0,0.05,0,0,0,0,0,0,0,0,0,0,0.53,0,0.26,0,0.26,0.26,0,0.77,0,0,1.28,0.79],
    "u":[0,0.15,0.04,0,0,0,0,0.11,0.15,0.02,0,0,0,0,0.13,0,0,0,0.19,0.19,0.3,0.34,0.34,0.45,0.96,1.3,3.8,4.25,3.69,2.33,2.52,2.71,0.87,0.87,0.75,1.11,0.49,0.87,0.58,0.96,1.9,1,0.68,0.83,0.72,0.19,0,0.43,0,0.19,0.15,0.15],
    "m":[0.02,0.04,0.02,0.02,0.02,0.02,0.02,0.05,0.05,0.02,0.02,0.02,0.02,0.02,0.04,0.02,0.02,0.02,0.08,0.11,0.21,0.21,0.26,0.34,0.49,0.68,1.24,1.47,1.43,0.96,1.15,0.87,0.4,0.36,0.3,0.45,0.26,0.34,0.26,0.34,0.38,0.3,0.19,0.23,0.19,0.08,0.04,0.04,0.04,0.04,0.04,0.04]}]},
   "transform":[{"flatten":["w","b","u","m"]}],
   "encoding":{"x":{"field":"w","type":"ordinal","title":null,"scale":{"range":[28,232],"paddingInner":0.3,"paddingOuter":0.2},"axis":{"values":[1,4,7,10,13,16,19,22,25,28,31,34,37,40,43,46,49,52],"labelExpr":"datum.value+'週'","offset":-24}}},
   "layer":[
    {"transform":[{"filter":"datum.w<15"}],"mark":"bar","encoding":{"y":{"field":"b","type":"quantitative","title":null,"scale":{"domain":[0,4.5],"range":[108,29]},"axis":{"tickCount":9,"format":".2f","offset":-28}},"color":{"datum":"2025年第1週～第14週","scale":{"domain":["2025年第1週～第14週","2025年第15週以降","過去５年間の平均＋2SD","過去５年間の平均"],"range":["#7f7f7f","#ff0000","#ffc000","#92d050"]},"legend":{"title":null,"legendX":171,"legendY":8}}}},
    {"transform":[{"filter":"datum.w>=15"}],"mark":"bar","encoding":{"y":{"field":"b","type":"quantitative","title":null},"color":{"datum":"2025年第15週以降"}}},
    {"mark":{"type":"line","strokeWidth":1.8},"encoding":{"y":{"field":"u","type":"quantitative","title":null},"color":{"datum":"過去５年間の平均＋2SD"}}},
    {"mark":{"type":"line","strokeWidth":1},"encoding":{"y":{"field":"m","type":"quantitative","title":null},"color":{"datum":"過去５年間の平均"}}}
   ]},
  {"width":237,"height":132,"title":{"text":"流行性耳下腺炎"},
   "data":{"values":[{"w":[1,2,3,4,5,6,7,8,9,10,11,12,13,14,15,16,17,18,19,20,21,22,23,24,25,26,27,28,29,30,31,32,33,34,35,36,37,38,39,40,41,42,43,44,45,46,47,48,49,50,51,52],
    "b":[0,0,0,0,0,0,0,0,0,0,0,0,0,0,0,0,0,0,0,0,0,0,0,0,0,0,0,0.25,0,0],
    "u":[0,0,0,0.14,0.14,0.14,0.14,0,0.19,0,0.14,0,0.14,0,0,0.27,0,0,0.14,0.14,0.3,0.14,0.14,0,0.14,0,0.19,0.195,0.19,0.14,0,0,0.19,0.14,0,0.19,0.14,0.27,0.14,0,0.14,0.14,0.19,0.14,0.14,0,0,0,0.14,0,0,0.14],
    "m":[0,0,0,0.03,0.03,0.03,0.03,0,0.05,0,0.03,0,0.03,0,0,0.05,0,0,0.03,0.03,0.075,0.03,0.03,0,0.03,0,0.05,0.055,0.05,0.03,0,0,0.05,0.03,0,0.05,0.03,0.05,0.03,0,0.03,0.03,0.05,0.03,0.03,0,0,0,0.03,0,0,0.03]}]},
   "transform":[{"flatten":["w","b","u","m"]}],
   "encoding":{"x":{"field":"w","type":"ordinal","title":null,"scale":{"range":[28,232],"paddingInner":0.3,"paddingOuter":0.2},"axis":{"values":[1,4,7,10,13,16,19,22,25,28,31,34,37,40,43,46,49,52],"labelExpr":"datum.value+'週'","offset":-24}}},
   "layer":[
    {"transform":[{"filter":"datum.w<15"}],"mark":"bar","encoding":{"y":{"field":"b","type":"quantitative","title":null,"scale":{"domain":[0,0.5],"range":[108,29]},"axis":{"tickCount":5,"format":".2f","offset":-28}},"color":{"datum":"2025年第1週～第14週","scale":{"domain":["2025年第1週～第14週","2025年第15週以降","過去５年間の平均＋2SD","過去５年間の平均"],"range":["#7f7f7f","#ff0000","#ffc000","#92d050"]},"legend":{"title":null,"legendX":172,"legendY":8}}}},
    {"transform":[{"filter":"datum.w>=15"}],"mark":"bar","encoding":{"y":{"field":"b","type":"quantitative","title":null},"color":{"datum":"2025年第15週以降"}}},
    {"mark":{"type":"line","strokeWidth":1.8},"encoding":{"y":{"field":"u","type":"quantitative","title":null},"color":{"datum":"過去５年間の平均＋2SD"}}},
    {"mark":{"type":"line","strokeWidth":1},"encoding":{"y":{"field":"m","type":"quantitative","title":null},"color":{"datum":"過去５年間の平均"}}}
   ]}
 ],"spacing":6,"bounds":"flush","resolve":{"scale":{"color":"independent"}}},
 {"width":152,"height":23,"view":{"fill":"#2f5597","stroke":null,"cornerRadius":5},"data":{"values":[{"t":"眼科定点"}]},"mark":{"type":"text","color":"#ffffff","fontSize":13.5,"fontWeight":"bold"},"encoding":{"text":{"field":"t"}}},
 {"hconcat":[
  {"width":237,"height":134,"title":{"text":"急性出血性結膜炎","dx":-6},
   "data":{"values":[{"w":[1,2,3,4,5,6,7,8,9,10,11,12,13,14,15,16,17,18,19,20,21,22,23,24,25,26,27,28,29,30,31,32,33,34,35,36,37,38,39,40,41,42,43,44,45,46,47,48,49,50,51,52],
    "b":[0,0,0.36,0,0,0,0,0,0,0,0,0,0,0,0,0,0,0,0,0,0,0,0,0,0,0,0,0,0,0],
    "u":[0,0,0,0,0,0,0,0,0,0,0,0,0,0,0,0,0,0,0,0,0,0,0,0,0,0,0,0,0,0,0,0,0,0,0,0,0,0,0,0,0,0,0,0,0,0,0,0,0,0,0,0],
    "m":[0,0,0,0,0,0,0,0,0,0,0,0,0,0,0,0,0,0,0,0,0,0,0,0,0,0,0,0,0,0,0,0,0,0,0,0,0,0,0,0,0,0,0,0,0,0,0,0,0,0,0,0]}]},
   "transform":[{"flatten":["w","b","u","m"]}],
   "encoding":{"x":{"field":"w","type":"ordinal","title":null,"scale":{"range":[28,232],"paddingInner":0.3,"paddingOuter":0.2},"axis":{"values":[1,4,7,10,13,16,19,22,25,28,31,34,37,40,43,46,49,52],"labelExpr":"datum.value+'週'","offset":-24}}},
   "layer":[
    {"mark":"bar","encoding":{"y":{"field":"b","type":"quantitative","title":null,"scale":{"domain":[0,5],"range":[110,29]},"axis":{"tickCount":5,"format":".2f","offset":-28}},"color":{"datum":"2025年","scale":{"domain":["2025年","過去５年間の平均＋2SD","過去５年間の平均"],"range":["#ff0000","#ffc000","#92d050"]},"legend":{"title":null,"legendX":178,"legendY":7}}}},
    {"mark":{"type":"line","strokeWidth":1.8},"encoding":{"y":{"field":"u","type":"quantitative","title":null},"color":{"datum":"過去５年間の平均＋2SD"}}},
    {"mark":{"type":"line","strokeWidth":1.8},"encoding":{"y":{"field":"m","type":"quantitative","title":null},"color":{"datum":"過去５年間の平均"}}}
   ]},
  {"width":237,"height":134,"title":{"text":"流行性角結膜炎"},
   "data":{"values":[{"w":[1,2,3,4,5,6,7,8,9,10,11,12,13,14,15,16,17,18,19,20,21,22,23,24,25,26,27,28,29,30,31,32,33,34,35,36,37,38,39,40,41,42,43,44,45,46,47,48,49,50,51,52],
    "b":[0.34,2.1,1.6,2.1,0.75,2.1,0,0.4,1.35,1,1.35,1,1.35,0.68,0.34,2.7,1.7,0.34,0.34,3.05,2.37,2.37,2.37,5.35,6.7,3.38,3.72,5.68,7.03,5.68],
    "u":[3.6,2.1,1.6,3.3,0.95,1.7,1.85,0.5,2.7,2.37,2,1.5,2.7,3.88,1.35,1.2,2.37,1.35,3.2,1.85,4.1,2.5,1.35,2.2,2.77,2.37,3.45,2.5,2.6,2.3,1.75,1.85,1.85,1.6,2.5,2.2,2,2.6,1.5,3.38,2.2,5.25,2.5,2.5,1.35,2.37,4.45,3.55,2.5,2.87,2.87,2.43],
    "m":[1.5,1.4,1,0.95,0.75,1.08,0.85,0.5,0.95,0.85,0.85,0.85,1,0.75,0.75,0.95,0.6,0.5,1.6,1,1.5,0.85,0.68,0.95,0.68,0.85,1.08,0.95,0.75,1.08,1.2,0.85,0.5,1,1,0.75,1.2,0.85,1,0.85,1.08,1.2,0.85,1.08,0.75,1,1.5,1.2,0.75,1,1,0.85]}]},
   "transform":[{"flatten":["w","b","u","m"]}],
   "encoding":{"x":{"field":"w","type":"ordinal","title":null,"scale":{"range":[28,232],"paddingInner":0.3,"paddingOuter":0.2},"axis":{"values":[1,4,7,10,13,16,19,22,25,28,31,34,37,40,43,46,49,52],"labelExpr":"datum.value+'週'","offset":-24}}},
   "layer":[
    {"mark":"bar","encoding":{"y":{"field":"b","type":"quantitative","title":null,"scale":{"domain":[0,8],"range":[110,29]},"axis":{"tickCount":8,"format":".2f","offset":-28}},"color":{"datum":"2025年","scale":{"domain":["2025年","過去５年間の平均＋2SD","過去５年間の平均"],"range":["#ff0000","#ffc000","#92d050"]},"legend":{"title":null,"legendX":172,"legendY":7}}}},
    {"mark":{"type":"line","strokeWidth":1.8},"encoding":{"y":{"field":"u","type":"quantitative","title":null},"color":{"datum":"過去５年間の平均＋2SD"}}},
    {"mark":{"type":"line","strokeWidth":1},"encoding":{"y":{"field":"m","type":"quantitative","title":null},"color":{"datum":"過去５年間の平均"}}}
   ]}
 ],"spacing":6,"bounds":"flush","resolve":{"scale":{"color":"independent"}}}
],"spacing":2.75,"resolve":{"scale":{"color":"independent"}}}
],
"spacing":79,"resolve":{"scale":{"color":"independent"}}
}
